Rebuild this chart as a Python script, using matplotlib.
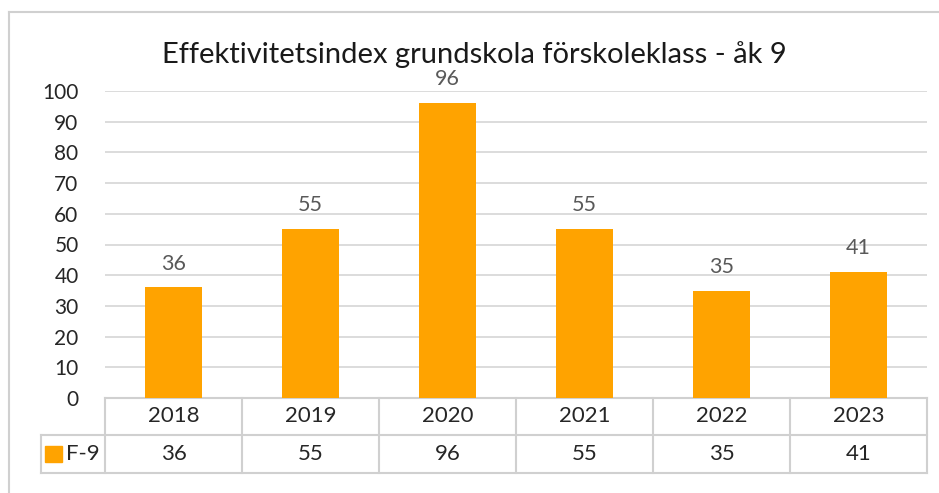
import matplotlib.pyplot as plt
from matplotlib.lines import Line2D
from matplotlib.patches import Rectangle
import matplotlib.transforms as mtransforms

years = ["2018", "2019", "2020", "2021", "2022", "2023"]
f9 = [36, 55, 96, 55, 35, 41]
series_name = "F-9"
title = "Effektivitetsindex grundskola förskoleklass - åk 9"

orange = "#FFA300"
grid_c = "#D9D9D9"
W, H = 939, 493

plt.rcParams["font.family"] = ["Lato", "DejaVu Sans"]

fig = plt.figure(figsize=(W / 100, H / 100), dpi=100)
# plot area in pixels: x 105..927, y 91..398 (from top)
ax = fig.add_axes([105 / W, (H - 398) / H, (927 - 105) / W, (398 - 91) / H])

x = list(range(len(years)))
bars = ax.bar(x, f9, width=0.42, color=orange, zorder=3)
for b, v in zip(bars, f9):
    ax.annotate(str(v), (b.get_x() + b.get_width() / 2, v), xytext=(0, 10),
                textcoords="offset points", ha="center", va="bottom",
                fontsize=15.5, color="#595959")

ax.set_xlim(-0.5, len(years) - 0.5)
ax.set_ylim(0, 100)
ax.set_yticks(range(0, 101, 10))
ax.yaxis.grid(True, color=grid_c, lw=1.3, zorder=0)
ax.set_xticks([])
ax.tick_params(axis="y", length=0, pad=19, labelsize=15, labelcolor="#262626")
for s in ax.spines.values():
    s.set_visible(False)

fig.text(474 / W, (H - 55) / H, title, ha="center", va="center",
         fontsize=21, color="#1a1a1a")

# data table below the axis
trans = mtransforms.blended_transform_factory(ax.transData, ax.transAxes)
ph = 398 - 91
r1 = -(435 - 398) / ph
r2 = -(473 - 398) / ph
leg_left = -0.5 - (105 - 41) / (822 / len(years))
tc = "#D0D0D0"
kw = dict(transform=trans, color=tc, lw=1.5, clip_on=False)
ax.add_line(Line2D([-0.5, 5.5], [0, 0], **kw))
ax.add_line(Line2D([leg_left, 5.5], [r1, r1], **kw))
ax.add_line(Line2D([leg_left, 5.5], [r2, r2], **kw))
ax.add_line(Line2D([leg_left, leg_left], [r1, r2], **kw))
for i in range(len(years) + 1):
    xe = i - 0.5
    ax.add_line(Line2D([xe, xe], [0, r2], **kw))
for i, (yr, v) in enumerate(zip(years, f9)):
    ax.text(i, r1 / 2, yr, transform=trans, ha="center", va="center",
            fontsize=16, color="#262626")
    ax.text(i, (r1 + r2) / 2, str(v), transform=trans, ha="center", va="center",
            fontsize=16, color="#262626")
ax.add_patch(Rectangle((leg_left + 0.03, (r1 + r2) / 2 - 0.027), 0.12, 0.054,
                       transform=trans, color=orange, clip_on=False))
ax.text(leg_left + 0.18, (r1 + r2) / 2, series_name, transform=trans,
        ha="left", va="center", fontsize=16, color="#262626")

# chart area border (left and top)
fig.add_artist(Line2D([9 / W, 9 / W], [0, (H - 12) / H], color=tc, lw=1.5))
fig.add_artist(Line2D([9 / W, 1], [(H - 12) / H, (H - 12) / H], color=tc, lw=1.5))

fig.savefig("out.png", dpi=100)
